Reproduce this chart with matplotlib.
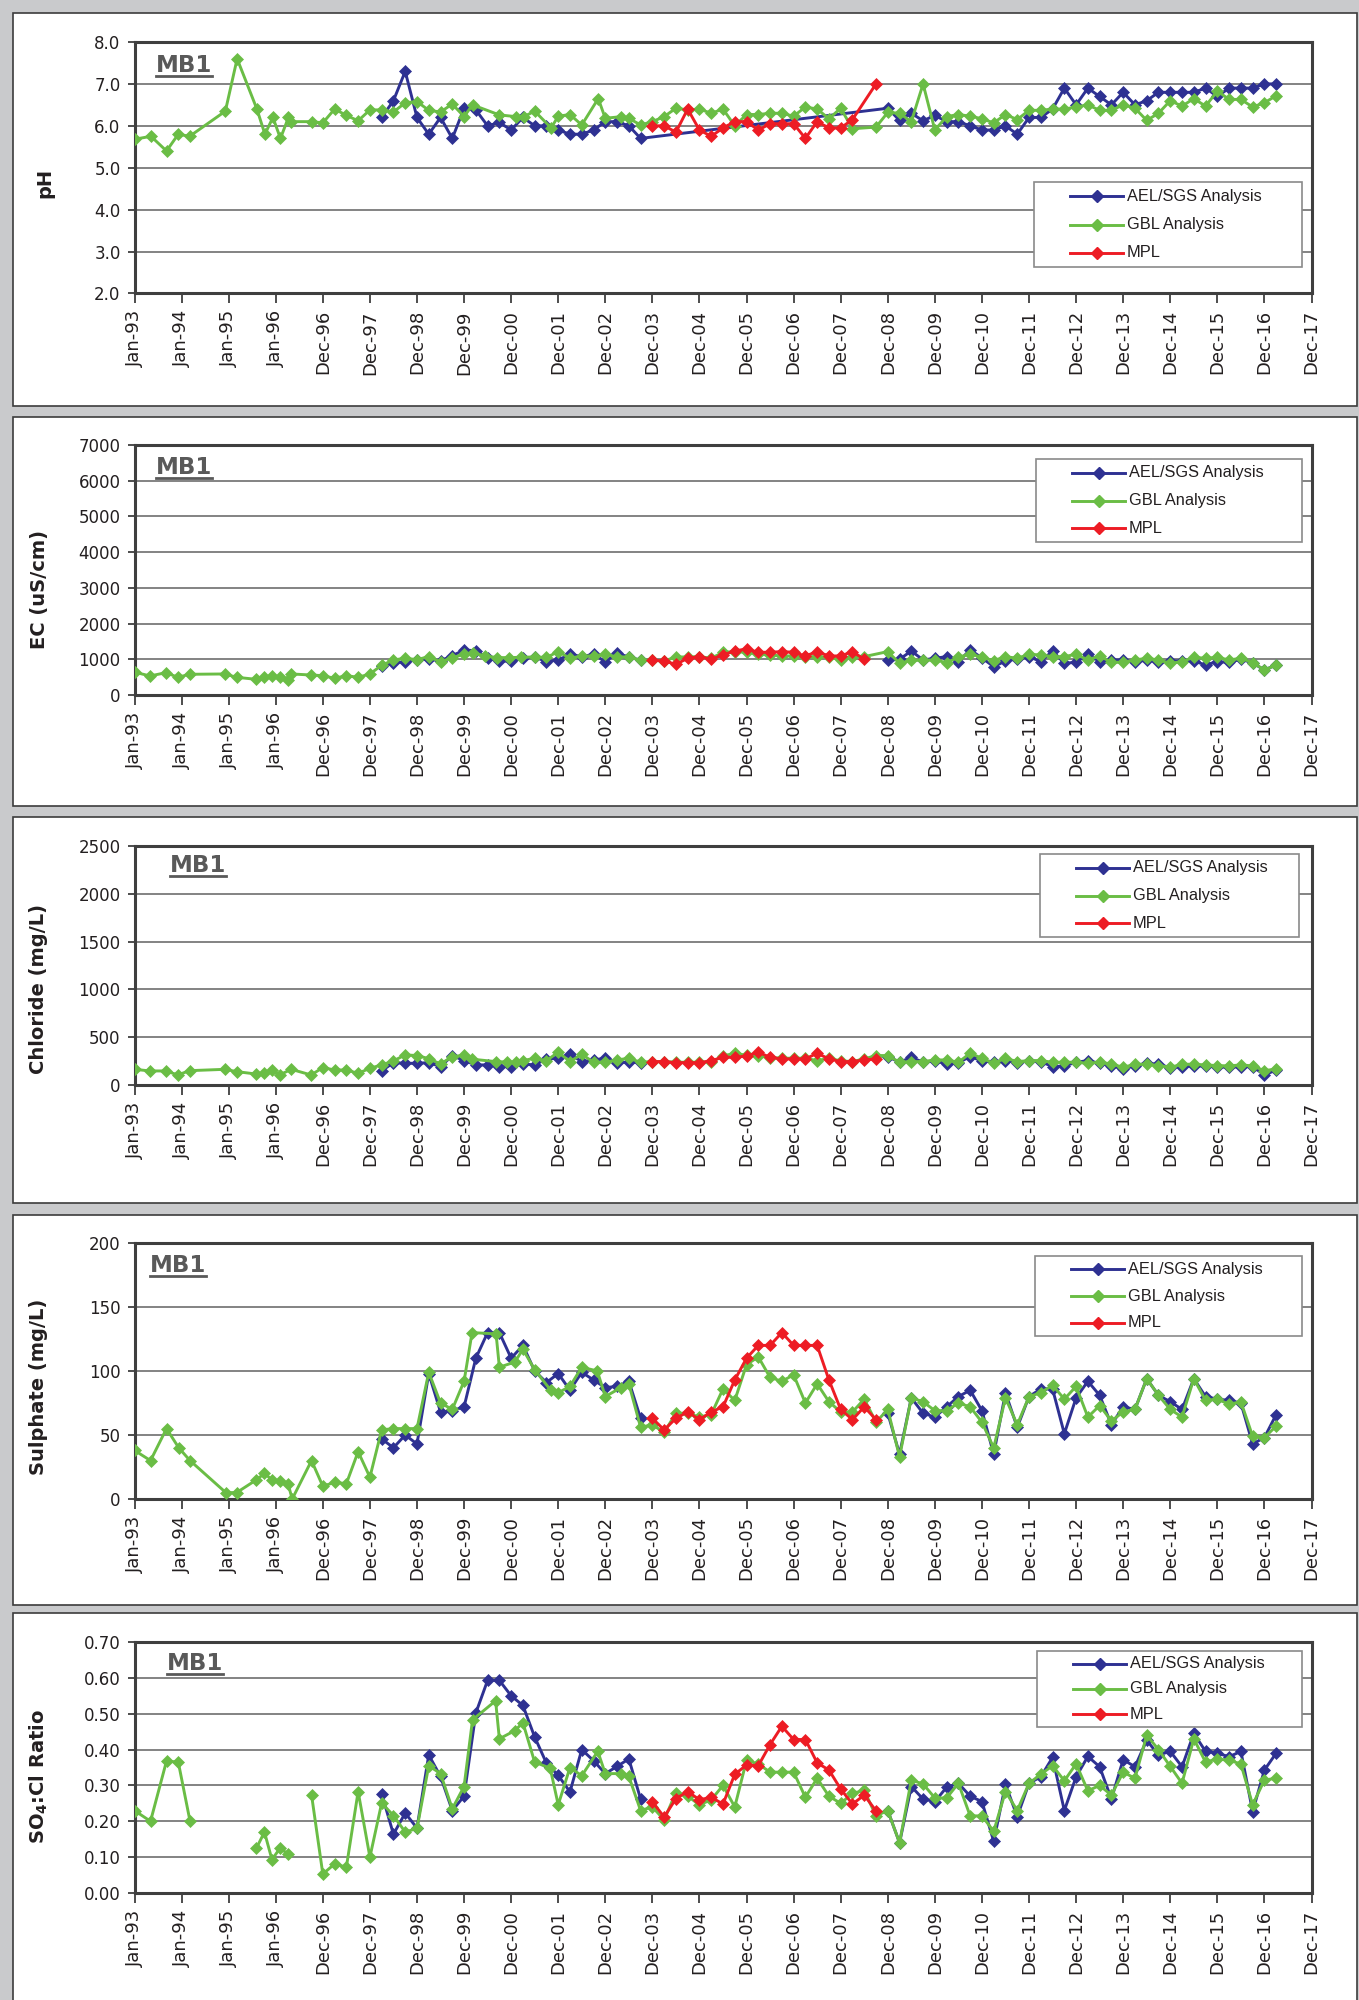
"""
MB1 groundwater quality time series - five stacked panels
(pH, EC, chloride, sulphate, SO4:Cl ratio) with three labs each.
"""
import numpy as np
import matplotlib
matplotlib.use("Agg")
import matplotlib.pyplot as plt
from matplotlib.lines import Line2D
from matplotlib.patches import Rectangle

# ── Data ──────────────────────────────────────────────────────────────────────
# x = position on the category axis (0 = Jan-93 ... 25 = Dec-17), y = value
GAP = (np.nan, np.nan)

x_labels = ["Jan-93", "Jan-94", "Jan-95", "Jan-96", "Dec-96", "Dec-97", "Dec-98",
            "Dec-99", "Dec-00", "Dec-01", "Dec-02", "Dec-03", "Dec-04", "Dec-05",
            "Dec-06", "Dec-07", "Dec-08", "Dec-09", "Dec-10", "Dec-11", "Dec-12",
            "Dec-13", "Dec-14", "Dec-15", "Dec-16", "Dec-17"]
series_names = ["AEL/SGS Analysis", "GBL Analysis", "MPL"]

ph_ael = [(5.25, 6.2), (5.5, 6.6), (5.75, 7.3), (6.0, 6.2), (6.25, 5.8), (6.5, 6.2),
          (6.75, 5.7), (7.0, 6.42), (7.25, 6.38), (7.5, 6.0), (7.75, 6.08), (8.0, 5.9),
          (8.25, 6.2), (8.5, 6.0), (8.75, 6.0), (9.0, 5.9), (9.25, 5.8), (9.5, 5.8),
          (9.75, 5.9), (10.0, 6.1), (10.25, 6.1), (10.5, 6.0), (10.75, 5.7), (16.0, 6.42),
          (16.25, 6.13), (16.5, 6.3), (16.75, 6.12), (17.0, 6.25), (17.25, 6.1), (17.5, 6.1),
          (17.75, 6.0), (18.0, 5.9), (18.25, 5.9), (18.5, 6.0), (18.75, 5.8), (19.0, 6.2),
          (19.25, 6.2), (19.5, 6.4), (19.75, 6.9), (20.0, 6.5), (20.25, 6.9), (20.5, 6.7),
          (20.75, 6.5), (21.0, 6.8), (21.25, 6.5), (21.5, 6.6), (21.75, 6.8), (22.0, 6.8),
          (22.25, 6.8), (22.5, 6.8), (22.75, 6.9), (23.0, 6.7), (23.25, 6.9), (23.5, 6.9),
          (23.75, 6.9), (24.0, 7.0), (24.25, 7.0)]
ph_gbl = [(0.0, 5.68), (0.35, 5.75), (0.68, 5.4), (0.93, 5.8), (1.17, 5.75), (1.93, 6.35),
          (2.18, 7.6), (2.6, 6.4), (2.77, 5.8), (2.94, 6.2), (3.1, 5.7), (3.27, 6.2),
          (3.33, 6.1), (3.77, 6.1), (4.0, 6.07), (4.25, 6.4), (4.5, 6.25), (4.75, 6.12),
          (5.0, 6.38), (5.25, 6.38), (5.5, 6.33), (5.75, 6.55), (6.0, 6.58), (6.25, 6.37),
          (6.5, 6.33), (6.75, 6.52), (7.0, 6.22), (7.18, 6.5), (7.75, 6.26), (8.1, 6.22),
          (8.27, 6.22), (8.5, 6.35), (8.85, 5.95), (9.0, 6.23), (9.25, 6.27), (9.5, 6.02),
          (9.85, 6.65), (10.0, 6.18), (10.34, 6.22), (10.5, 6.18), (10.75, 6.02), (11.0, 6.1),
          (11.25, 6.22), (11.5, 6.42), (11.75, 6.38), (12.0, 6.4), (12.25, 6.3), (12.5, 6.4),
          (12.75, 6.0), (13.0, 6.27), (13.25, 6.27), (13.5, 6.3), (13.75, 6.3), (14.0, 6.23),
          (14.25, 6.45), (14.5, 6.4), (14.75, 6.17), (15.0, 6.42), (15.25, 5.93), (15.75, 5.97),
          (16.0, 6.32), (16.25, 6.3), (16.5, 6.1), (16.75, 7.0), (17.0, 5.9), (17.25, 6.22),
          (17.5, 6.27), (17.75, 6.23), (18.0, 6.17), (18.25, 6.07), (18.5, 6.27), (18.75, 6.15),
          (19.0, 6.37), (19.25, 6.37), (19.5, 6.4), (19.75, 6.4), (20.0, 6.45), (20.25, 6.5),
          (20.5, 6.37), (20.75, 6.37), (21.0, 6.5), (21.25, 6.42), (21.5, 6.13), (21.75, 6.3),
          (22.0, 6.6), (22.25, 6.47), (22.5, 6.65), (22.75, 6.47), (23.0, 6.83), (23.25, 6.63),
          (23.5, 6.63), (23.75, 6.45), (24.0, 6.55), (24.25, 6.72)]
ph_mpl = [(11.0, 6.0), (11.25, 6.0), (11.5, 5.85), (11.75, 6.4), (12.0, 5.9), (12.25, 5.75),
          (12.5, 5.95), (12.75, 6.1), (13.0, 6.1), (13.25, 5.9), (13.5, 6.05), (13.75, 6.05),
          (14.0, 6.05), (14.25, 5.7), (14.5, 6.1), (14.75, 5.95), (15.0, 5.95), (15.25, 6.15),
          (15.75, 7.0)]

ec_ael = [(5.25, 800), (5.5, 900), (5.75, 930), (6.0, 990), (6.25, 1000), (6.5, 960),
          (6.75, 1100), (7.0, 1260), (7.25, 1240), (7.5, 1028), (7.75, 950), (8.0, 950),
          (8.25, 1028), (8.5, 1065), (8.75, 935), (9.0, 981), (9.25, 1140), (9.5, 1075),
          (9.75, 1140), (10.0, 935), (10.25, 1168), (10.5, 1065), (10.75, 972), GAP,
          (16.0, 972), (16.25, 1000), (16.5, 1234), (16.75, 981), (17.0, 1028), (17.25, 1075),
          (17.5, 935), (17.75, 1265), (18.0, 1037), (18.25, 794), (18.5, 953), (18.75, 1009),
          (19.0, 1075), (19.25, 935), (19.5, 1234), (19.75, 888), (20.0, 916), (20.25, 1140),
          (20.5, 935), (20.75, 981), (21.0, 981), (21.25, 916), (21.5, 981), (21.75, 916),
          (22.0, 953), (22.25, 953), (22.5, 953), (22.75, 841), (23.0, 935), (23.25, 916),
          (23.5, 1000), (23.75, 900), (24.0, 700), (24.25, 841)]
ec_gbl = [(0.0, 640), (0.33, 533), (0.67, 626), (0.92, 495), (1.17, 580), (1.92, 589),
          (2.17, 495), (2.58, 440), (2.75, 495), (2.92, 542), (3.08, 495), (3.25, 420),
          (3.33, 589), (3.75, 560), (4.0, 542), (4.25, 467), (4.5, 542), (4.75, 495),
          (5.0, 589), (5.25, 832), (5.5, 981), (5.75, 1028), (6.0, 990), (6.25, 1075),
          (6.5, 925), (6.75, 1047), (7.0, 1140), (7.2, 1178), (7.45, 1093), (7.7, 1047),
          (7.95, 1047), (8.22, 1056), (8.5, 1065), (8.75, 1050), (9.0, 1215), (9.25, 1028),
          (9.5, 1093), (9.75, 1093), (10.0, 1140), (10.25, 1065), (10.5, 1065), (10.75, 972),
          (11.0, 981), (11.25, 953), (11.5, 1065), (11.75, 1065), (12.0, 1075), (12.25, 1028),
          (12.5, 1196), (12.75, 1215), (13.0, 1196), (13.25, 1140), (13.5, 1121), (13.75, 1093),
          (14.0, 1093), (14.25, 1075), (14.5, 1075), (14.75, 1065), (15.0, 972), (15.25, 1075),
          (15.5, 1075), (16.0, 1215), (16.25, 888), (16.5, 972), (16.75, 972), (17.0, 981),
          (17.25, 907), (17.5, 1056), (17.75, 1150), (18.0, 1056), (18.25, 963), (18.5, 1075),
          (18.75, 1028), (19.0, 1140), (19.25, 1121), (19.5, 1075), (19.75, 1075), (20.0, 1140),
          (20.25, 981), (20.5, 1093), (20.75, 916), (21.0, 916), (21.25, 981), (21.5, 1028),
          (21.75, 981), (22.0, 888), (22.25, 935), (22.5, 1056), (22.75, 1028), (23.0, 1056),
          (23.25, 981), (23.5, 1028), (23.75, 907), (24.0, 700), (24.25, 841)]
ec_mpl = [(11.0, 972), (11.25, 953), (11.5, 860), (11.75, 1028), (12.0, 1075), (12.25, 1000),
          (12.5, 1121), (12.75, 1234), (13.0, 1290), (13.25, 1196), (13.5, 1196), (13.75, 1215),
          (14.0, 1196), (14.25, 1093), (14.5, 1215), (14.75, 1093), (15.0, 1093), (15.25, 1215),
          (15.5, 1000)]

cl_ael = [(5.25, 147), (5.5, 234), (5.75, 227), (6.0, 227), (6.25, 234), (6.5, 192),
          (6.75, 308), (7.0, 255), (7.25, 210), (7.5, 210), (7.75, 192), (8.0, 192),
          (8.25, 220), (8.5, 210), (8.75, 273), (9.0, 280), (9.25, 322), (9.5, 245),
          (9.75, 262), (10.0, 280), (10.25, 234), (10.5, 238), (10.75, 234), GAP,
          (16.0, 297), (16.25, 238), (16.5, 290), (16.75, 238), (17.0, 255), (17.25, 217),
          (17.5, 234), (17.75, 297), (18.0, 252), (18.25, 245), (18.5, 255), (18.75, 234),
          (19.0, 255), (19.25, 245), (19.5, 192), (19.75, 199), (20.0, 238), (20.25, 255),
          (20.5, 227), (20.75, 203), (21.0, 164), (21.25, 203), (21.5, 227), (21.75, 217),
          (22.0, 182), (22.25, 192), (22.5, 199), (22.75, 199), (23.0, 192), (23.25, 185),
          (23.5, 192), (23.75, 192), (24.0, 105), (24.25, 157)]
cl_gbl = [(0.0, 164), (0.33, 147), (0.67, 147), (0.92, 105), (1.17, 150), (1.92, 164),
          (2.17, 140), (2.58, 115), (2.75, 122), (2.92, 157), (3.08, 105), (3.33, 164),
          (3.75, 105), (4.0, 182), (4.25, 157), (4.5, 157), (4.75, 122), (5.0, 175),
          (5.25, 210), (5.5, 252), (5.75, 315), (6.0, 308), (6.25, 276), (6.5, 220),
          (6.75, 297), (7.0, 311), (7.17, 270), (7.67, 245), (7.92, 240), (8.1, 240),
          (8.25, 255), (8.5, 280), (8.75, 255), (9.0, 343), (9.25, 245), (9.5, 322),
          (9.75, 238), (10.0, 238), (10.25, 262), (10.5, 280), (10.75, 238), (11.0, 245),
          (11.25, 245), (11.5, 238), (11.75, 238), (12.0, 238), (12.25, 238), (12.5, 304),
          (12.75, 332), (13.0, 311), (13.25, 304), (13.5, 287), (13.75, 280), (14.0, 280),
          (14.25, 280), (14.5, 255), (14.75, 280), (15.0, 252), (15.25, 245), (15.5, 273),
          (15.75, 308), (16.0, 308), (16.25, 238), (16.5, 245), (16.75, 245), (17.0, 262),
          (17.25, 262), (17.5, 238), (17.75, 332), (18.0, 280), (18.25, 227), (18.5, 280),
          (18.75, 245), (19.0, 255), (19.25, 255), (19.5, 238), (19.75, 238), (20.0, 238),
          (20.25, 227), (20.5, 238), (20.75, 220), (21.0, 185), (21.25, 217), (21.5, 217),
          (21.75, 203), (22.0, 185), (22.25, 217), (22.5, 217), (22.75, 210), (23.0, 203),
          (23.25, 200), (23.5, 210), (23.75, 200), (24.0, 150), (24.25, 168)]
cl_mpl = [(11.0, 245), (11.25, 245), (11.5, 234), (11.75, 234), (12.0, 234), (12.25, 255),
          (12.5, 290), (12.75, 290), (13.0, 304), (13.25, 343), (13.5, 290), (13.75, 273),
          (14.0, 273), (14.25, 273), (14.5, 332), (14.75, 273), (15.0, 245), (15.25, 245),
          (15.5, 262), (15.75, 273)]

so4_ael = [(5.25, 47), (5.5, 40), (5.75, 50), (6.0, 43), (6.25, 98), (6.5, 68), (6.75, 69),
           (7.0, 72), (7.25, 110), (7.5, 130), (7.75, 130), (8.0, 110), (8.25, 120), (8.5, 100),
           (8.75, 91), (9.0, 98), (9.25, 85), (9.5, 99), (9.75, 93), (10.0, 87), (10.25, 88),
           (10.5, 92), (10.75, 63), GAP, (16.0, 67), (16.25, 35), (16.5, 79), (16.75, 67),
           (17.0, 64), (17.25, 72), (17.5, 80), (17.75, 85), (18.0, 69), (18.25, 35), (18.5, 83),
           (18.75, 56), (19.0, 80), (19.25, 86), (19.5, 86), (19.75, 51), (20.0, 79), (20.25, 92),
           (20.5, 81), (20.75, 58), (21.0, 72), (21.25, 70), (21.5, 94), (21.75, 81), (22.0, 76),
           (22.25, 70), (22.5, 94), (22.75, 80), (23.0, 78), (23.25, 77), (23.5, 75), (23.75, 43),
           (24.0, 48), (24.25, 66)]
so4_gbl = [(0.0, 38), (0.34, 30), (0.68, 55), (0.94, 40), (1.18, 30), (1.94, 5), (2.17, 5),
           (2.59, 15), (2.76, 20), (2.92, 15), (3.09, 14), (3.26, 12), (3.35, 0), (3.76, 30),
           (4.0, 10), (4.25, 13), (4.5, 12), (4.75, 37), (5.0, 17), (5.25, 54), (5.5, 55),
           (5.75, 55), (6.0, 55), (6.25, 99), (6.5, 75), (6.75, 70), (7.0, 92), (7.17, 130),
           (7.68, 129), (7.75, 103), (8.08, 107), (8.25, 117), (8.5, 101), (8.84, 85), (9.0, 83),
           (9.25, 88), (9.5, 103), (9.83, 100), (10.0, 80), (10.33, 87), (10.5, 90), (10.75, 56),
           (11.0, 58), (11.25, 52), (11.5, 67), (11.75, 67), (12.0, 64), (12.25, 66), (12.5, 86),
           (12.75, 77), (13.0, 105), (13.25, 111), (13.5, 95), (13.75, 92), (14.0, 97),
           (14.25, 75), (14.5, 90), (14.75, 76), (15.0, 68), (15.25, 68), (15.5, 78), (15.75, 60),
           (16.0, 70), (16.25, 33), (16.5, 79), (16.75, 76), (17.0, 69), (17.25, 69), (17.5, 75),
           (17.75, 72), (18.0, 60), (18.25, 40), (18.5, 79), (18.75, 58), (19.0, 80), (19.25, 83),
           (19.5, 89), (19.75, 78), (20.0, 88), (20.25, 64), (20.5, 73), (20.75, 61), (21.0, 68),
           (21.25, 70), (21.5, 94), (21.75, 81), (22.0, 70), (22.25, 64), (22.5, 94), (22.75, 77),
           (23.0, 78), (23.25, 74), (23.5, 76), (23.75, 49), (24.0, 48), (24.25, 57)]
so4_mpl = [(11.0, 63), (11.25, 54), (11.5, 63), (11.75, 68), (12.0, 62), (12.25, 68),
           (12.5, 72), (12.75, 93), (13.0, 110), (13.25, 120), (13.5, 120), (13.75, 130),
           (14.0, 120), (14.25, 120), (14.5, 120), (14.75, 93), (15.0, 70), (15.25, 62),
           (15.5, 72), (15.75, 62)]

ratio_ael = [(5.25, 0.277), (5.5, 0.164), (5.75, 0.223), (6.0, 0.181), (6.25, 0.385),
             (6.5, 0.325), (6.75, 0.23), (7.0, 0.27), (7.25, 0.502), (7.5, 0.593), (7.75, 0.593),
             (8.0, 0.55), (8.25, 0.523), (8.5, 0.435), (8.75, 0.362), (9.0, 0.328), (9.25, 0.282),
             (9.5, 0.40), (9.75, 0.369), (10.0, 0.333), (10.25, 0.353), (10.5, 0.374),
             (10.75, 0.262), GAP, (16.0, 0.23), (16.25, 0.14), (16.5, 0.297), (16.75, 0.262),
             (17.0, 0.255), (17.25, 0.295), (17.5, 0.306), (17.75, 0.27), (18.0, 0.255),
             (18.25, 0.144), (18.5, 0.303), (18.75, 0.213), (19.0, 0.306), (19.25, 0.324),
             (19.5, 0.378), (19.75, 0.23), (20.0, 0.324), (20.25, 0.381), (20.5, 0.352),
             (20.75, 0.262), (21.0, 0.372), (21.25, 0.352), (21.5, 0.426), (21.75, 0.385),
             (22.0, 0.395), (22.25, 0.352), (22.5, 0.445), (22.75, 0.395), (23.0, 0.39),
             (23.25, 0.38), (23.5, 0.395), (23.75, 0.227), (24.0, 0.343), (24.25, 0.39)]
ratio_gbl = [(0.0, 0.23), (0.34, 0.20), (0.68, 0.368), (0.93, 0.365), (1.18, 0.20), GAP,
             (2.59, 0.125), (2.76, 0.17), (2.92, 0.093), (3.09, 0.125), (3.26, 0.109), GAP,
             (3.76, 0.274), (4.0, 0.053), (4.25, 0.081), (4.5, 0.072), (4.75, 0.283), (5.0, 0.10),
             (5.25, 0.251), (5.5, 0.216), (5.75, 0.17), (6.0, 0.18), (6.25, 0.355), (6.5, 0.333),
             (6.75, 0.235), (7.0, 0.297), (7.18, 0.483), (7.67, 0.536), (7.75, 0.43),
             (8.08, 0.453), (8.25, 0.475), (8.5, 0.365), (8.83, 0.348), (9.0, 0.246),
             (9.25, 0.35), (9.5, 0.327), (9.84, 0.395), (10.0, 0.333), (10.33, 0.333),
             (10.5, 0.325), (10.75, 0.23), (11.0, 0.24), (11.25, 0.204), (11.5, 0.28),
             (11.75, 0.27), (12.0, 0.246), (12.25, 0.26), (12.5, 0.30), (12.75, 0.24),
             (13.0, 0.37), (13.25, 0.36), (13.5, 0.337), (13.75, 0.337), (14.0, 0.337),
             (14.25, 0.267), (14.5, 0.32), (14.75, 0.27), (15.0, 0.25), (15.25, 0.278),
             (15.5, 0.286), (15.75, 0.215), (16.0, 0.23), (16.25, 0.14), (16.5, 0.315),
             (16.75, 0.304), (17.0, 0.265), (17.25, 0.265), (17.5, 0.306), (17.75, 0.215),
             (18.0, 0.215), (18.25, 0.172), (18.5, 0.283), (18.75, 0.23), (19.0, 0.306),
             (19.25, 0.331), (19.5, 0.355), (19.75, 0.313), (20.0, 0.36), (20.25, 0.285),
             (20.5, 0.30), (20.75, 0.273), (21.0, 0.337), (21.25, 0.32), (21.5, 0.44),
             (21.75, 0.40), (22.0, 0.353), (22.25, 0.306), (22.5, 0.43), (22.75, 0.365),
             (23.0, 0.374), (23.25, 0.37), (23.5, 0.36), (23.75, 0.246), (24.0, 0.315),
             (24.25, 0.32)]
ratio_mpl = [(11.0, 0.254), (11.25, 0.212), (11.5, 0.263), (11.75, 0.283), (12.0, 0.26),
             (12.25, 0.267), (12.5, 0.248), (12.75, 0.331), (13.0, 0.357), (13.25, 0.355),
             (13.5, 0.414), (13.75, 0.465), (14.0, 0.428), (14.25, 0.428), (14.5, 0.363),
             (14.75, 0.343), (15.0, 0.29), (15.25, 0.248), (15.5, 0.273), (15.75, 0.229)]

# ── Style / layout (pixel coords of the 1359x2000 canvas, y from top) ─────────
W, H = 1359, 2000
COLORS = ["#2e3192", "#6abd45", "#ed1c24"]
TXT = "#231f20"
AX_L, AX_R = 134.5, 1311.5

panels = [
    dict(series=(ph_ael, ph_gbl, ph_mpl), box=(13, 406), ax=(42, 293.5),
         yticks=np.arange(2.0, 8.01, 1.0), fmt="{:.1f}", ylabel="pH",
         label_xy=(45, 183), mb1=(156, 72), leg=(1034, 182, 1302, 267)),
    dict(series=(ec_ael, ec_gbl, ec_mpl), box=(417, 806), ax=(445, 695),
         yticks=np.arange(0, 7001, 1000), fmt="{:.0f}", ylabel="EC (uS/cm)",
         label_xy=(39, 590), mb1=(156, 474), leg=(1036, 459, 1302, 542)),
    dict(series=(cl_ael, cl_gbl, cl_mpl), box=(817, 1203), ax=(846, 1085),
         yticks=np.arange(0, 2501, 500), fmt="{:.0f}", ylabel="Chloride (mg/L)",
         label_xy=(39, 989), mb1=(170, 872), leg=(1040, 854, 1299, 937)),
    dict(series=(so4_ael, so4_gbl, so4_mpl), box=(1215, 1605), ax=(1243, 1499),
         yticks=np.arange(0, 201, 50), fmt="{:.0f}", ylabel="Sulphate (mg/L)",
         label_xy=(39, 1387), mb1=(150, 1272), leg=(1035, 1256, 1302, 1336)),
    dict(series=(ratio_ael, ratio_gbl, ratio_mpl), box=(1613, 2010), ax=(1642, 1893),
         yticks=np.arange(0, 0.701, 0.1), fmt="{:.2f}", ylabel=r"SO$_4$:Cl Ratio",
         label_xy=(39, 1776), mb1=(167, 1670), leg=(1037, 1651, 1302, 1727)),
]

plt.rcParams["mathtext.fontset"] = "dejavusans"
plt.rcParams["mathtext.default"] = "bf"


def fx(px):
    return px / W


def fy(py):
    return 1 - py / H


fig = plt.figure(figsize=(W / 100, H / 100), dpi=100)
fig.patch.set_facecolor("#c9cacc")

mb1_texts = []
for p in panels:
    # white card behind each chart
    top, bot = p["box"]
    fig.add_artist(Rectangle((fx(13), fy(bot)), fx(1357) - fx(13), (bot - top) / H,
                             transform=fig.transFigure, facecolor="white",
                             edgecolor="#3c3c3c", lw=1.2, zorder=-5))

    a_top, a_bot = p["ax"]
    ax = fig.add_axes([fx(AX_L), fy(a_bot), fx(AX_R) - fx(AX_L), (a_bot - a_top) / H])
    ax.set_facecolor("white")

    for pts, c, z in zip(p["series"], COLORS, (3, 4, 5)):
        xs = [q[0] for q in pts]
        ys = [q[1] for q in pts]
        ax.plot(xs, ys, color=c, lw=2.1, marker="D", ms=6, mfc=c, mec=c,
                mew=0.5, zorder=z)

    yt = p["yticks"]
    ax.set_ylim(yt[0], yt[-1])
    ax.set_yticks(yt)
    ax.set_yticklabels([p["fmt"].format(v) for v in yt])
    ax.set_xlim(0, 25)
    ax.set_xticks(range(len(x_labels)))
    ax.set_xticklabels(x_labels, rotation=90)
    ax.yaxis.grid(True, color="#7a7a7a", lw=1.3)
    ax.set_axisbelow(True)
    for s in ax.spines.values():
        s.set_color("#3f3f3f")
        s.set_linewidth(2.2)
    ax.tick_params(axis="y", length=5, width=1.3, colors="#3f3f3f", labelcolor=TXT,
                   labelsize=12, pad=5)
    ax.tick_params(axis="x", length=7, width=1.3, colors="#3f3f3f", labelcolor=TXT,
                   labelsize=13, pad=5)

    lx, ly = p["label_xy"]
    fig.text(fx(lx), fy(ly), p["ylabel"], rotation=90, ha="center", va="center",
             fontsize=14, fontweight="bold", color=TXT)

    mx, my = p["mb1"]
    mb1_texts.append(fig.text(fx(mx), fy(my), "MB1", ha="left", va="baseline",
                              fontsize=16.5, fontweight="bold", color="#595959"))

    # legend box
    x0, y0, x1, y1 = p["leg"]
    fig.add_artist(Rectangle((fx(x0), fy(y1)), fx(x1) - fx(x0), (y1 - y0) / H,
                             transform=fig.transFigure, facecolor="white",
                             edgecolor="#8a8a8a", lw=1.2, zorder=10))
    for name, c, frac in zip(series_names, COLORS, (0.165, 0.5, 0.835)):
        yy = y0 + (y1 - y0) * frac
        fig.add_artist(Line2D([fx(x0 + 36), fx(x0 + 89)], [fy(yy), fy(yy)], color=c,
                              lw=2.1, transform=fig.transFigure, zorder=11))
        fig.add_artist(Line2D([fx(x0 + 62.5)], [fy(yy)], color=c, marker="D", ms=6,
                              mfc=c, mec=c, transform=fig.transFigure, zorder=12))
        fig.text(fx(x0 + 93), fy(yy), name, ha="left", va="center", fontsize=11.8,
                 family="Liberation Sans", color=TXT, zorder=13)

# underline the MB1 tags
fig.canvas.draw()
renderer = fig.canvas.get_renderer()
for t in mb1_texts:
    bb = t.get_window_extent(renderer)
    x_a, x_b = bb.x0 / W, bb.x1 / W
    y_base = t.get_position()[1] - 3.5 / H
    fig.add_artist(Line2D([x_a, x_b], [y_base, y_base], color="#595959", lw=2.0,
                          transform=fig.transFigure, zorder=6))

fig.savefig("out.png", dpi=100, facecolor=fig.get_facecolor())
